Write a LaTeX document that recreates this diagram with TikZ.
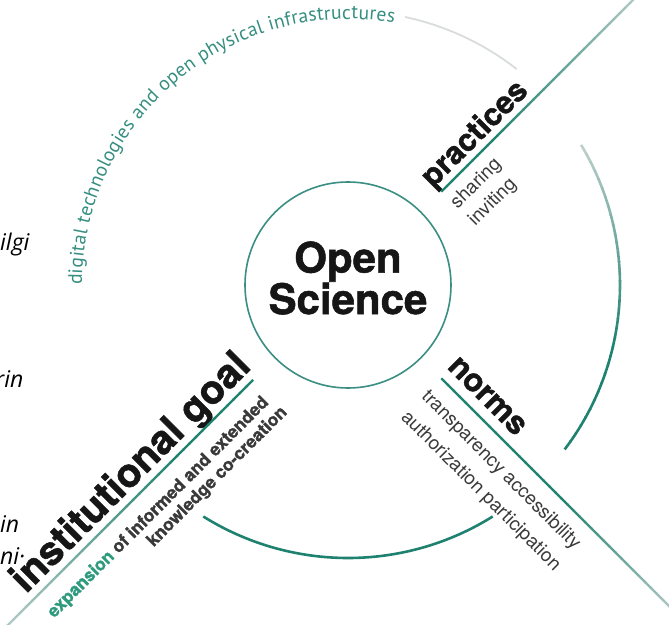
\documentclass[tikz,border=0pt]{standalone}
\usepackage{fontspec}
\usepackage{xcolor}
\usepackage{tikz}
\usetikzlibrary{calc, positioning, decorations.text}
\newfontfamily\heros[BoldFeatures={FakeBold=1.3}]{TeX Gyre Heros}
\newfontfamily\ptsans{PT Sans}
\newfontfamily\opensans{Open Sans}
\definecolor{hubteal}{HTML}{3A8E82}
\definecolor{lineteal}{HTML}{1F8270}
\definecolor{fadegrey}{HTML}{D8DCDA}
\definecolor{arcteal}{HTML}{358E80}
\definecolor{expteal}{HTML}{2E9A7E}
\definecolor{inkblack}{HTML}{161616}
\definecolor{inkgrey}{HTML}{3A3A3A}

\begin{document}
\begin{tikzpicture}[x=1pt, y=1pt]
    \tikzstyle{hub} = [circle, draw=hubteal, line width=1.6pt, minimum size=206pt, inner sep=0pt]
    \tikzstyle{heading} = [text=inkblack, inner sep=0pt]
    \tikzstyle{detail} = [font=\heros\fontsize{19}{19}\selectfont, text=inkgrey, inner sep=0pt]
    \tikzstyle{subline} = [font=\heros\bfseries\fontsize{17.5}{17.5}\selectfont, text=inkblack!85, inner sep=0pt]
    \tikzstyle{margin} = [font=\opensans\itshape\fontsize{23}{23}\selectfont, anchor=base west, inner sep=0pt]
    \tikzstyle{spoke} = [line width=2.2pt]
    \tikzstyle{ring} = [line width=2.6pt]

    \useasboundingbox (-348,-339) rectangle (321,285);
    \clip (-348,-339) rectangle (321,285);

    % centre
    \node (hub) [hub] at (0,0) {};
    \node (title) [heading, align=center, font=\heros\bfseries\fontsize{42}{37}\selectfont] at (0,7) {Open\\Science};

    % cut-off words of the running text on the left
    \node (frag1) [margin] at (-348,35) {ilgi};
    \node (frag2) [margin] at (-353,-102) {rin};
    \node (frag3) [margin] at (-348,-247) {in};
    \node (frag4) [margin] at (-348,-279) {ni·};

    % practices (upper right)
    \begin{scope}[rotate=45, transform shape]
      \coordinate (pIn) at (132,0);
      \coordinate (pOut) at (420,0);
      \node (practices) [heading, anchor=base west, font=\heros\bfseries\fontsize{31}{31}\selectfont] at (128,8) {practices};
      \node (sharing) [detail, anchor=base west] at (131,-24) {sharing};
      \node (inviting) [detail, anchor=base west] at (131,-49) {inviting};
    \end{scope}

    % norms (lower right)
    \begin{scope}[rotate=-45, transform shape]
      \coordinate (nIn) at (132,0);
      \coordinate (nOut) at (470,0);
      \node (norms) [heading, anchor=base west, font=\heros\bfseries\fontsize{32}{32}\selectfont] at (128,11) {norms};
      \node (normsA) [detail, anchor=base west] at (131,-28) {transparency accessibility};
      \node (normsB) [detail, anchor=base west] at (131,-57) {authorization participation};
    \end{scope}

    % institutional goal (lower left)
    \begin{scope}[rotate=45, transform shape]
      \coordinate (gIn) at (-134,0);
      \coordinate (gOut) at (-490,0);
      \node (goal) [heading, anchor=base east, font=\heros\bfseries\fontsize{40}{40}\selectfont] at (-126,9) {institutional goal};
      \node (goalA) [subline, anchor=base east] at (-139,-28) {\textcolor{expteal}{expansion} of informed and extended};
      \node (goalB) [subline, anchor=base east] at (-133,-48) {knowledge co-creation};
    \end{scope}

    % spokes, teal near the hub and fading outwards
    \foreach \from/\to/\hold in {pIn/pOut/0.25, nIn/nOut/0.5, gIn/gOut/0.3} {
      \foreach \k in {0,...,39} {
        \pgfmathsetmacro{\ta}{\k/40}
        \pgfmathsetmacro{\tb}{(\k+1.2)/40}
        \pgfmathtruncatemacro{\mix}{\ta<\hold ? 100 : 100-85*(\ta-\hold)/(1-\hold)}
        \draw [spoke, lineteal!\mix!fadegrey] ($(\from)!\ta!(\to)$) -- ($(\from)!\tb!(\to)$);
      }
    }

    % outer ring: lettered arc in the upper left
    \path [decorate, decoration={text along path, text align=fit to path,
      text={|\ptsans\fontsize{19.6}{19.6}\selectfont\color{arcteal}|digital technologies and open physical infrastructures}}]
      (180:266) arc[start angle=180, end angle=80, radius=266];
    \draw [line width=1.8pt, fadegrey] (78:274) arc[start angle=78, end angle=52, radius=274];

    % outer ring: right arc, grey at the top turning teal
    \foreach \k in {0,...,33} {
      \pgfmathsetmacro{\a}{31-\k*2}
      \pgfmathtruncatemacro{\mix}{min(100, 15+\k*4)}
      \draw [ring, lineteal!\mix!fadegrey] (\a:272) arc[start angle=\a, end angle=\a-2.2, radius=272];
    }

    % outer ring: bottom arc
    \draw [ring, lineteal] (-122:273) arc[start angle=-122, end angle=-58, radius=273];
\end{tikzpicture}
\end{document}
